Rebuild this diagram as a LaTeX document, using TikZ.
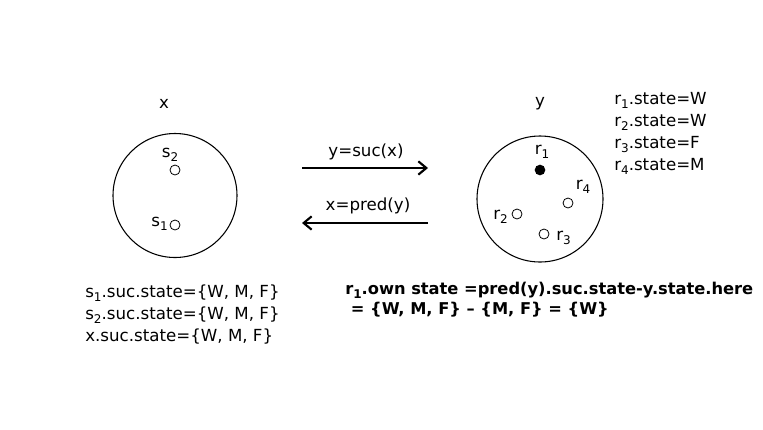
\documentclass[tikz,border=0pt]{standalone}
\usepackage{fontspec}
\setmainfont{DejaVu Sans}
\usetikzlibrary{arrows.meta}
\newcommand{\mysub}[1]{\raisebox{-0.4ex}{\fontsize{9}{10}\selectfont #1}}
\begin{document}
\begin{tikzpicture}[x=0.75pt,y=-0.75pt,
  txt/.style={inner sep=0pt,font=\fontsize{12.5}{16.5}\selectfont},
  big/.style={draw,circle,line width=0.8pt,inner sep=0pt},
  hole/.style={draw,circle,line width=0.6pt,inner sep=0pt,minimum size=7.5pt},
  dot/.style={fill,circle,inner sep=0pt,minimum size=8pt},
  arr/.style={line width=1.6pt,-{Straight Barb[length=6pt,width=10pt]}}]
\useasboundingbox (0,0) rectangle (763,429);
\fill[white] (0,0) rectangle (763,429);
% left circle
\node[big,minimum size=93pt] (X) at (175,195.5) {};
\node[txt] (xl) at (164,104) {x};
\node[hole] (s2) at (175,170) {};
\node[txt] (s2l) at (170,155) {s\mysub{2}};
\node[hole] (s1) at (175,225) {};
\node[txt,anchor=east] (s1l) at (168,224) {s\mysub{1}};
% right circle
\node[big,minimum size=94.5pt] (Y) at (540,199) {};
\node[txt] (yl) at (540,104) {y};
\node[dot] (r1) at (540,170) {};
\node[txt] (r1l) at (542,152) {r\mysub{1}};
\node[hole] (r4) at (568,203) {};
\node[txt] (r4l) at (583,187) {r\mysub{4}};
\node[hole] (r2) at (517,214) {};
\node[txt,anchor=east] (r2l) at (508,217) {r\mysub{2}};
\node[hole] (r3) at (544,234) {};
\node[txt,anchor=west] (r3l) at (556,238) {r\mysub{3}};
% state list
\node[txt,anchor=north west,align=left] (states) at (614,92) {r\mysub{1}.state=W\\r\mysub{2}.state=W\\r\mysub{3}.state=F\\r\mysub{4}.state=M};
% arrows
\coordinate (a1s) at (302,168);
\coordinate (a1e) at (428,168);
\coordinate (a2s) at (428,223);
\coordinate (a2e) at (302,223);
\draw[arr] (a1s) -- (a1e);
\draw[arr] (a2s) -- (a2e);
\node[txt] (suc) at (366,152) {y=suc(x)};
\node[txt] (pred) at (368,206) {x=pred(y)};
% bottom left text
\node[txt,anchor=north west,align=left] (lefttxt) at (85,285) {s\mysub{1}.suc.state=\{W, M, F\}\\s\mysub{2}.suc.state=\{W, M, F\}\\x.suc.state=\{W, M, F\}};
% bold text
\node[txt,anchor=north west,align=left,font=\fontsize{12.2}{15}\selectfont\bfseries] (bold) at (345,282) {r\mysub{1}.own state =pred(y).suc.state-y.state.here\\\ = \{W, M, F\} -- \{M, F\} = \{W\}};
\end{tikzpicture}
\end{document}
